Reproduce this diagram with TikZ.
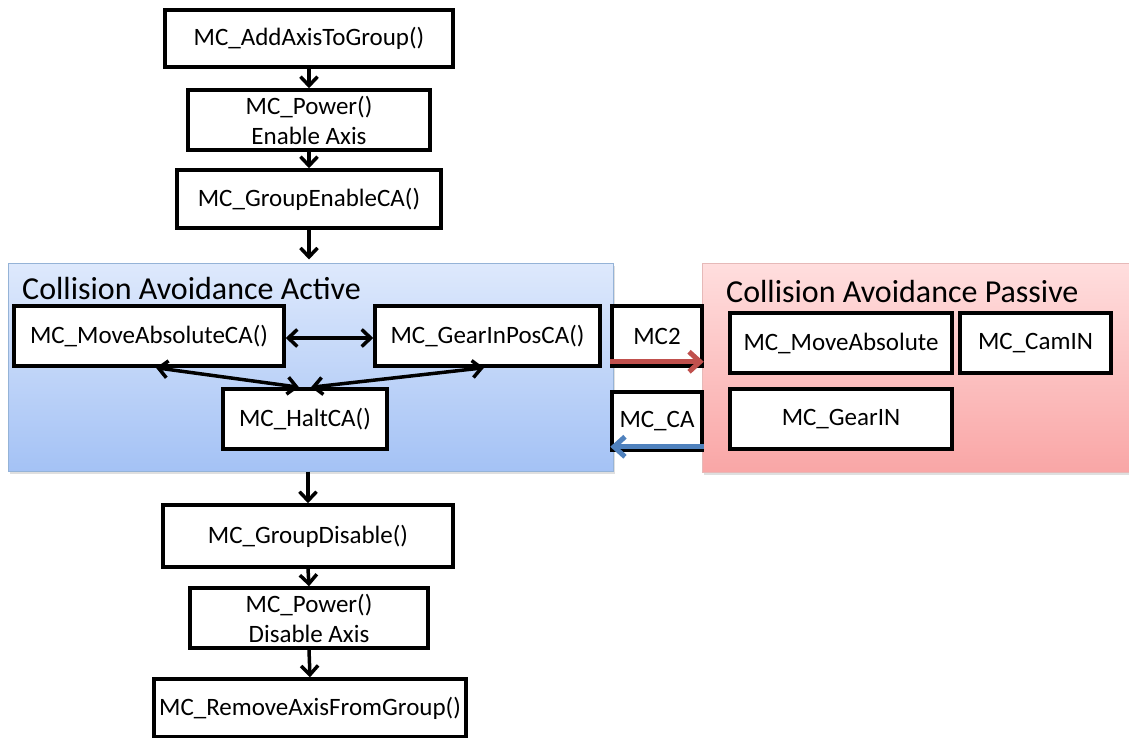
\documentclass[tikz,border=0pt]{standalone}
\usepackage{fontspec}
\setmainfont{Carlito}
\usetikzlibrary{arrows.meta,shadows}
\definecolor{bluetop}{RGB}{222,233,252}
\definecolor{bluebot}{RGB}{164,194,245}
\definecolor{blueedge}{RGB}{149,179,215}
\definecolor{redtop}{RGB}{255,222,222}
\definecolor{redbot}{RGB}{249,166,166}
\definecolor{rededge}{RGB}{230,185,184}
\definecolor{redarrow}{RGB}{192,80,77}
\definecolor{bluearrow}{RGB}{79,129,189}
\begin{document}
\begin{tikzpicture}[x=1pt,y=-1pt,
  box/.style={draw=black, line width=3.5pt, fill=white, inner sep=0pt, align=center,
    font=\fontsize{25}{30}\selectfont, text=black},
  region/.style={inner sep=0pt, line width=1pt,
    drop shadow={opacity=0.25, shadow xshift=2pt, shadow yshift=-3pt}},
  rtitle/.style={anchor=west, inner sep=0pt, font=\fontsize{32}{36}\selectfont, text=black},
  arr/.style={line width=3.5pt, -{Straight Barb[length=9pt,width=17pt]}},
  darr/.style={line width=3.5pt, {Straight Barb[length=9pt,width=17pt]}-{Straight Barb[length=9pt,width=17pt]}},
  carr/.style={line width=5pt, -{Straight Barb[length=11pt,width=20pt]}}
]
\useasboundingbox (0,0) rectangle (1129,738);

% top chain
\node[box, minimum width=288pt, minimum height=57pt] (add) at (309,38.5) {MC\_AddAxisToGroup()};
\node[box, minimum width=242pt, minimum height=60pt] (pwr1) at (309,120) {MC\_Power()\\Enable Axis};
\node[box, minimum width=264pt, minimum height=58pt] (gen) at (309,199) {MC\_GroupEnableCA()};

% regions
\node[region, draw=blueedge, top color=bluetop, bottom color=bluebot,
      minimum width=605pt, minimum height=208pt] (active) at (310.5,367) {};
\node[region, draw=rededge, top color=redtop, bottom color=redbot,
      minimum width=460pt, minimum height=209pt] (passive) at (932,367.5) {};
\node[rtitle] (tact) at (22,289) {Collision Avoidance Active};
\node[rtitle] (tpas) at (726,292) {Collision Avoidance Passive};

% active boxes
\node[box, minimum width=270pt, minimum height=60pt] (movca) at (149,336) {MC\_MoveAbsoluteCA()};
\node[box, minimum width=225pt, minimum height=60pt] (gearca) at (487.5,336) {MC\_GearInPosCA()};
\node[box, minimum width=164pt, minimum height=60pt] (halt) at (305,419) {MC\_HaltCA()};

% passive boxes
\node[box, minimum width=222pt, minimum height=60pt] (mabs) at (841,343) {MC\_MoveAbsolute};
\node[box, minimum width=151pt, minimum height=60pt] (camin) at (1035.5,343) {MC\_CamIN};
\node[box, minimum width=222pt, minimum height=60pt] (gearin) at (841,419) {MC\_GearIN};

% link boxes
\node[box, minimum width=90pt, minimum height=60pt] (mc2) at (657,336) {MC2};
\node[box, minimum width=90pt, minimum height=58pt] (mcca) at (657,421) {MC\_CA};

% bottom chain
\node[box, minimum width=290pt, minimum height=62pt] (gdis) at (308,536) {MC\_GroupDisable()};
\node[box, minimum width=238pt, minimum height=60pt] (pwr2) at (309,618) {MC\_Power()\\Disable Axis};
\node[box, minimum width=312pt, minimum height=58pt] (rem) at (310,708) {MC\_RemoveAxisFromGroup()};

% connectors
\draw[arr] (add.south) -- (pwr1.north);
\draw[arr] (pwr1.south) -- (gen.north);
\draw[arr] (gen.south) -- ([yshift=3pt]gen.south |- active.north);
\draw[arr] (active.south -| gdis.north) -- (gdis.north);
\draw[arr] (gdis.south) -- (pwr2.north);
\draw[arr] (pwr2.south) -- (rem.north);

\draw[darr] ([yshift=-2pt]movca.east) -- ([yshift=-2pt]gearca.west);
\draw[darr] ([xshift=7pt]movca.south) -- ([xshift=-6pt]halt.north);
\draw[darr] ([xshift=-3.5pt]gearca.south) -- ([xshift=6pt]halt.north);

\draw[carr, draw=redarrow] ([yshift=6pt]mc2.south west) -- ([yshift=6pt]mc2.south east);
\draw[carr, draw=bluearrow] ([yshift=5pt]mcca.south east) -- ([yshift=5pt]mcca.south west);
\end{tikzpicture}
\end{document}
